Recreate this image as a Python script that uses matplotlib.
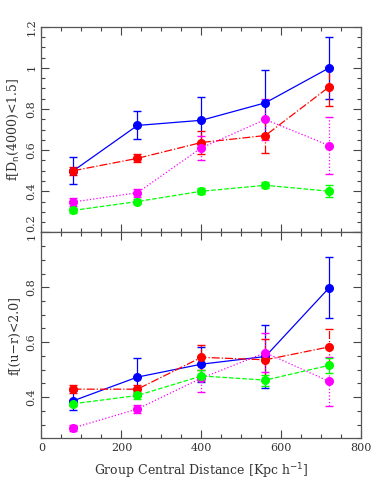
# Fraction of young / blue galaxies vs group central distance (two panels)
import matplotlib
matplotlib.use('Agg')
import matplotlib.pyplot as plt
from matplotlib.ticker import MultipleLocator

plt.rcParams['font.family'] = ['DejaVu Serif']

dist = [80, 240, 400, 560, 720]

# top panel: f[Dn(4000)<1.5]
d4_blue = [0.50, 0.72, 0.745, 0.83, 1.00]
d4_blue_err = [0.065, 0.068, 0.115, 0.16, 0.15]
d4_red = [0.50, 0.56, 0.637, 0.671, 0.908]
d4_red_err = [0.02, 0.02, 0.055, 0.085, 0.095]
d4_mag = [0.348, 0.393, 0.611, 0.749, 0.622]
d4_mag_err = [0.02, 0.02, 0.06, 0.10, 0.14]
d4_green = [0.307, 0.35, 0.40, 0.429, 0.40]
d4_green_err = [0.012, 0.012, 0.015, 0.015, 0.03]

# bottom panel: f[(u-r)<2.0]
ur_blue = [0.387, 0.473, 0.52, 0.548, 0.799]
ur_blue_err = [0.035, 0.07, 0.064, 0.115, 0.11]
ur_red = [0.429, 0.429, 0.545, 0.536, 0.583]
ur_red_err = [0.015, 0.015, 0.045, 0.075, 0.065]
ur_mag = [0.288, 0.357, 0.469, 0.562, 0.457]
ur_mag_err = [0.012, 0.015, 0.05, 0.07, 0.09]
ur_green = [0.376, 0.406, 0.477, 0.462, 0.516]
ur_green_err = [0.01, 0.012, 0.02, 0.02, 0.028]

styles = [('#0000ff', '-'), ('#ff0000', '-.'), ('#ff00ff', ':'), ('#00ff00', '--')]

fig = plt.figure(figsize=(3.82, 4.91), dpi=100)
ax1 = fig.add_axes([0.1086, 0.5267, 0.8372, 0.4189])
ax2 = fig.add_axes([0.1086, 0.1073, 0.8372, 0.4194])


def draw(ax, series):
    for (vals, errs), (col, ls) in zip(series, styles):
        eb = ax.errorbar(dist, vals, yerr=errs, color=col, ls=ls, lw=0.9,
                         marker='o', ms=5.5, capsize=3, elinewidth=0.9, zorder=3)
        for bar in eb[2]:
            bar.set_linestyle(ls)
    ax.set_xlim(0, 800)
    ax.xaxis.set_major_locator(MultipleLocator(200))
    ax.xaxis.set_minor_locator(MultipleLocator(50))
    ax.yaxis.set_major_locator(MultipleLocator(0.2))
    ax.yaxis.set_minor_locator(MultipleLocator(0.05))
    ax.tick_params(which='both', direction='in', top=True, right=True,
                   labelsize=8, colors='#444444', labelcolor='#333333')
    ax.tick_params(which='major', length=6, width=0.8)
    ax.tick_params(which='minor', length=3, width=0.8)
    for s in ax.spines.values():
        s.set_color('#555555')
        s.set_linewidth(0.9)


draw(ax1, [(d4_blue, d4_blue_err), (d4_red, d4_red_err),
           (d4_mag, d4_mag_err), (d4_green, d4_green_err)])
ax1.set_ylim(0.2, 1.2)
ax1.set_yticks([0.2, 0.4, 0.6, 0.8, 1.0, 1.2])
ax1.set_yticklabels(['0.2', '0.4', '0.6', '0.8', '1', '1.2'], rotation=90, va='center')
ax1.get_yticklabels()[0].set_va('bottom')
ax1.tick_params(labelbottom=False)
ax1.set_ylabel(r'f[D$_{\rm n}$(4000)<1.5]', fontsize=9, color='#333333', labelpad=4)

draw(ax2, [(ur_blue, ur_blue_err), (ur_red, ur_red_err),
           (ur_mag, ur_mag_err), (ur_green, ur_green_err)])
ax2.set_ylim(0.25, 1.0)
ax2.set_yticks([0.4, 0.6, 0.8, 1.0])
ax2.set_yticklabels(['0.4', '0.6', '0.8', '1'], rotation=90, va='center')
ax2.get_yticklabels()[-1].set_va('top')
ax2.set_ylabel('f[(u\u2212r)<2.0]', fontsize=9, color='#333333', labelpad=4)
ax2.set_xlabel(r'Group Central Distance [Kpc h$^{-1}$]', fontsize=9, color='#333333', labelpad=6)

fig.savefig('out.png', dpi=100)
